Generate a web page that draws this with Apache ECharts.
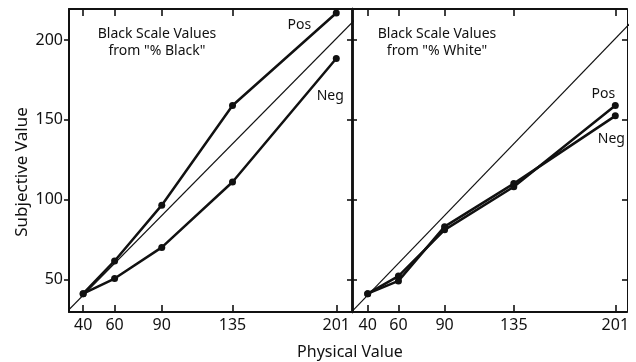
<!DOCTYPE html>
<html>
<head>
<meta charset="utf-8">
<script src="https://cdn.jsdelivr.net/npm/echarts@6/dist/echarts.min.js"></script>
<style>
  html, body { margin: 0; padding: 0; background: #fff; }
  #chart { width: 636px; height: 362px; }
</style>
</head>
<body>
<div id="chart"></div>
<script>
// Physical stimulus values (x) and subjective scale values (y)
const physical = [40, 60, 90, 135, 201];
const blackPos = [41, 61.5, 96.5, 159, 217];
const blackNeg = [41, 50.5, 70, 111, 188.5];
const whitePos = [41, 52, 81, 108, 159];
const whiteNeg = [41, 49, 83, 110, 152.5];
const identity = [30, 215];
const xTickValues = [40, 60, 90, 135, 201];
const yTickValues = [50, 100, 150, 200];

const INK = '#111';
const FONT = 'Noto Sans';

const pairs = (xs, ys) => xs.map((x, i) => [x, ys[i]]);

function xAxisCfg(grid, pos, min, max, showLabels) {
  return {
    type: 'value', gridIndex: grid, position: pos, min: min, max: max,
    axisLine: { show: true, onZero: false, lineStyle: { color: INK, width: 2 } },
    axisTick: { show: true, inside: true, length: 7, customValues: xTickValues, lineStyle: { color: INK, width: 1.6 } },
    axisLabel: {
      show: true, customValues: xTickValues, color: INK, fontFamily: FONT, fontSize: 16, margin: 5,
      formatter: v => showLabels ? String(v) : ''
    },
    splitLine: { show: false }
  };
}

function yAxisCfg(grid, pos, inside, width, showLabels) {
  return {
    type: 'value', gridIndex: grid, position: pos, min: 29.5, max: 219.5,
    axisLine: { show: true, onZero: false, lineStyle: { color: INK, width: width } },
    axisTick: { show: true, inside: inside, length: 5, customValues: yTickValues, lineStyle: { color: INK, width: 1.6 } },
    axisLabel: {
      show: true, customValues: yTickValues, color: INK, fontFamily: FONT, fontSize: 16, margin: 6,
      formatter: v => showLabels ? String(v) : ''
    },
    splitLine: { show: false }
  };
}

function curve(name, xi, yi, ys, tag, off) {
  const last = ys.length - 1;
  return {
    name: name, type: 'line', xAxisIndex: xi, yAxisIndex: yi,
    data: pairs(physical, ys),
    symbol: 'circle', symbolSize: 7,
    itemStyle: { color: INK },
    lineStyle: { color: INK, width: 2.5 },
    label: {
      show: true, position: 'inside', offset: off,
      formatter: p => p.dataIndex === last ? tag : '',
      color: INK, fontFamily: FONT, fontSize: 14
    },
    z: 3
  };
}

function diagonal(xi, yi) {
  return {
    type: 'line', xAxisIndex: xi, yAxisIndex: yi,
    data: pairs(identity, identity),
    symbol: 'none', clip: true,
    lineStyle: { color: INK, width: 1.2 },
    silent: true, z: 2
  };
}

const chart = echarts.init(document.getElementById('chart'), null, { renderer: 'canvas' });

chart.setOption({
  backgroundColor: '#fff',
  animation: false,
  grid: [
    { left: 69, right: 284, top: 9, bottom: 50 },
    { left: 352, right: 2, top: 9, bottom: 50 }
  ],
  xAxis: [
    xAxisCfg(0, 'bottom', 31, 211, true),
    xAxisCfg(1, 'bottom', 29.8, 208.6, true),
    xAxisCfg(0, 'top', 31, 211, false),
    xAxisCfg(1, 'top', 29.8, 208.6, false)
  ],
  yAxis: [
    yAxisCfg(0, 'left', false, 2, true),
    yAxisCfg(1, 'right', true, 1, false),
    yAxisCfg(0, 'right', true, 2.5, false),
    yAxisCfg(1, 'left', true, 2.5, false)
  ],
  series: [
    diagonal(0, 0),
    diagonal(1, 1),
    curve('Black Pos', 0, 0, blackPos, 'Pos', [-37, 12]),
    curve('Black Neg', 0, 0, blackNeg, 'Neg', [-6, 38]),
    curve('White Pos', 1, 1, whitePos, 'Pos', [-12, -11]),
    curve('White Neg', 1, 1, whiteNeg, 'Neg', [-4, 23])
  ],
  graphic: [
    {
      type: 'text',
      style: { text: 'Black Scale Values\nfrom "% Black"', x: 157, y: 26, align: 'center',
        fill: INK, font: '14px "Noto Sans"', lineHeight: 17 }
    },
    {
      type: 'text',
      style: { text: 'Black Scale Values\nfrom "% White"', x: 437, y: 26, align: 'center',
        fill: INK, font: '14px "Noto Sans"', lineHeight: 17 }
    },
    {
      type: 'text',
      style: { text: 'Physical Value', x: 350, y: 352, align: 'center', verticalAlign: 'middle',
        fill: INK, font: '16px "Noto Sans"' }
    },
    {
      type: 'text', x: 22, y: 172, rotation: Math.PI / 2,
      style: { text: 'Subjective Value', x: 0, y: 0, align: 'center', verticalAlign: 'middle',
        fill: INK, font: '17px "Noto Sans"' }
    }
  ]
});
</script>
</body>
</html>
